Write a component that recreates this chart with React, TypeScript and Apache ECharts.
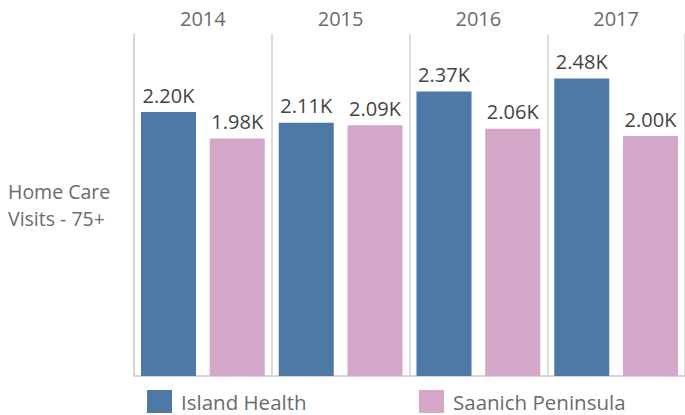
import React, { useEffect, useRef } from "react";
import * as echarts from "echarts";

const years = ["2014", "2015", "2016", "2017"];
const islandHealth = [2200, 2110, 2370, 2480];
const saanichPeninsula = [1980, 2090, 2060, 2000];
const seriesNames = ["Island Health", "Saanich Peninsula"];

export default function App() {
  const ref = useRef<HTMLDivElement>(null);
  useEffect(() => {
    if (!ref.current) return;
    const chart = echarts.init(ref.current, undefined, { renderer: "svg" });
    const font = "Open Sans";
    const lineColor = "#d3d3d3";
    const fmt = (p: any) => (p.value / 1000).toFixed(2) + "K";
    const legendCommon = {
      top: 390,
      padding: 0,
      itemWidth: 25,
      itemHeight: 23,
      icon: "rect",
      textStyle: { color: "#6b6b6b", fontSize: 20.5, fontFamily: font, padding: [0, 0, 0, 4] },
    };
    chart.setOption({
      animation: false,
      textStyle: { fontFamily: font },
      grid: { left: 134, right: -3, top: 34, bottom: 39 },
      legend: [
        { ...legendCommon, data: [seriesNames[0]], left: 147 },
        { ...legendCommon, data: [seriesNames[1]], left: 419 },
      ],
      xAxis: [
        {
          type: "category",
          data: years,
          position: "top",
          axisLine: { show: true, lineStyle: { color: lineColor, width: 1.5 } },
          axisTick: { show: false },
          axisLabel: { color: "#6b6b6b", fontSize: 20, margin: 6, fontFamily: font },
          splitLine: { show: true, lineStyle: { color: lineColor, width: 1.5 } },
        },
        {
          type: "category",
          data: years,
          position: "bottom",
          axisLine: { show: true, lineStyle: { color: lineColor, width: 1.5 } },
          axisTick: { show: false },
          axisLabel: { show: false },
          splitLine: { show: false },
        },
      ],
      yAxis: {
        type: "value",
        min: 0,
        max: 2850,
        axisLine: { show: true, lineStyle: { color: lineColor, width: 1.5 } },
        axisTick: { show: false },
        axisLabel: { show: false },
        splitLine: { show: false },
      },
      graphic: [
        {
          type: "text",
          left: 8,
          top: 178,
          style: {
            text: "Home Care\nVisits - 75+",
            fill: "#6b6b6b",
            font: `19.5px ${font}`,
            lineHeight: 27,
          },
        },
      ],
      series: [
        {
          name: seriesNames[0],
          type: "bar",
          xAxisIndex: 0,
          data: islandHealth,
          barWidth: 55,
          barGap: "25%",
          itemStyle: { color: "#4e79a7" },
          label: { show: true, position: "top", distance: 7, formatter: fmt, color: "#444", fontSize: 20, fontFamily: font },
        },
        {
          name: seriesNames[1],
          type: "bar",
          xAxisIndex: 0,
          data: saanichPeninsula,
          barWidth: 55,
          barGap: "25%",
          itemStyle: { color: "#d4a6c8" },
          label: { show: true, position: "top", distance: 7, formatter: fmt, color: "#444", fontSize: 20, fontFamily: font },
        },
      ],
    });
    return () => chart.dispose();
  }, []);
  return <div ref={ref} style={{ width: 685, height: 415, position: "absolute", left: 0, top: 0 }} />;
}
